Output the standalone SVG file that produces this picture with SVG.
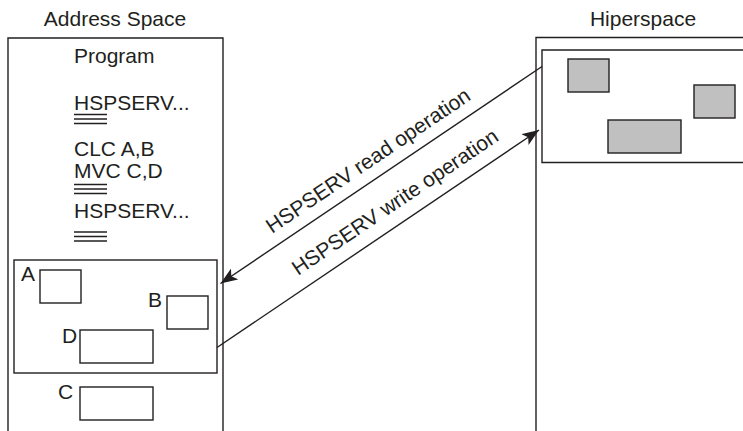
<svg xmlns="http://www.w3.org/2000/svg" width="743" height="431" viewBox="0 0 743 431">
  <style>
    text { font-family: "Liberation Sans", Arial, sans-serif; font-size: 21px; fill: #231f20; }
    .frame { fill: none; stroke: #231f20; stroke-width: 1.4; }
    .box { fill: #ffffff; stroke: #231f20; stroke-width: 1.4; }
    .gray { fill: #c0c0c0; stroke: #231f20; stroke-width: 1.4; }
    .rule { stroke: #231f20; stroke-width: 1.3; }
    .conn { fill: none; stroke: #231f20; stroke-width: 1.4; }
  </style>
  <defs>
    <marker id="arrow" viewBox="0 0 17 13" refX="17" refY="6.5" markerWidth="17" markerHeight="13" markerUnits="userSpaceOnUse" orient="auto">
      <path d="M0,0 L17,6.5 L0,13 L4,6.5 z" fill="#231f20"/>
    </marker>
  </defs>
  <rect width="743" height="431" fill="#ffffff"/>

  <g id="address-space">
    <text x="115" y="26" text-anchor="middle">Address Space</text>
    <path class="frame" d="M8,431 V38 H223 V431"/>
  </g>

  <g id="program">
    <text x="74" y="62.5">Program</text>
    <text x="74" y="110">HSPSERV...</text>
    <line class="rule" x1="74" y1="114.5" x2="107" y2="114.5"/>
    <line class="rule" x1="74" y1="119" x2="107" y2="119"/>
    <line class="rule" x1="74" y1="123.5" x2="107" y2="123.5"/>
    <text x="74" y="156">CLC A,B</text>
    <text x="74" y="178">MVC C,D</text>
    <line class="rule" x1="74" y1="184.5" x2="107" y2="184.5"/>
    <line class="rule" x1="74" y1="189" x2="107" y2="189"/>
    <line class="rule" x1="74" y1="193.5" x2="107" y2="193.5"/>
    <text x="74" y="218">HSPSERV...</text>
    <line class="rule" x1="74" y1="232" x2="107" y2="232"/>
    <line class="rule" x1="74" y1="236.5" x2="107" y2="236.5"/>
    <line class="rule" x1="74" y1="241" x2="107" y2="241"/>
  </g>

  <g id="data-area">
    <rect class="box" x="14" y="260" width="203" height="113"/>
  </g>
  <g id="box-A">
    <text x="21" y="281">A</text>
    <rect class="box" x="40" y="270" width="41" height="33"/>
  </g>
  <g id="box-B">
    <text x="148" y="307">B</text>
    <rect class="box" x="167" y="296" width="41" height="33"/>
  </g>
  <g id="box-D">
    <text x="62" y="343">D</text>
    <rect class="box" x="80" y="330" width="73" height="33"/>
  </g>
  <g id="box-C">
    <text x="58" y="399">C</text>
    <rect class="box" x="80" y="387" width="73" height="33"/>
  </g>

  <g id="hiperspace">
    <text x="643" y="26" text-anchor="middle">Hiperspace</text>
    <path class="frame" d="M536,431 V37.5 H743"/>
  </g>
  <g id="hiperspace-area">
    <path class="frame" d="M743,50 H542 V162.5 H743"/>
    <rect class="gray" x="568" y="59" width="41" height="33"/>
    <rect class="gray" x="694" y="85" width="41" height="33"/>
    <rect class="gray" x="608" y="120" width="73" height="33"/>
  </g>

  <g id="connectors">
    <line class="conn" x1="542" y1="66.5" x2="220.5" y2="283.5" marker-end="url(#arrow)"/>
    <line class="conn" x1="217" y1="347.5" x2="539" y2="130" marker-end="url(#arrow)"/>
    <text transform="translate(272,234) rotate(-34)">HSPSERV read operation</text>
    <text transform="translate(298,276) rotate(-34)">HSPSERV write operation</text>
  </g>
</svg>
